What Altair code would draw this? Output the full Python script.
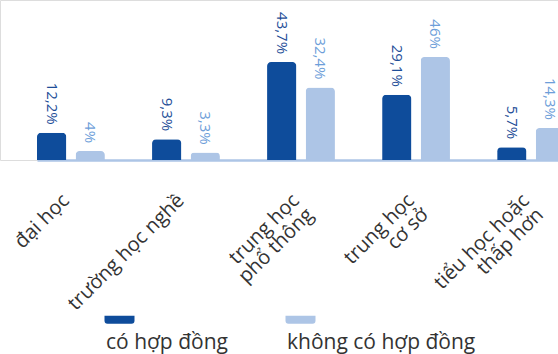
import altair as alt
import pandas as pd

# Education levels (line breaks split the axis labels)
categories = [
    "đại học",
    "trường học nghề",
    "trung học\nphổ thông",
    "trung học\ncơ sở",
    "tiểu học hoặc\nthấp hơn",
]
series = ["có hợp đồng", "không có hợp đồng"]
with_contract = [12.2, 9.3, 43.7, 29.1, 5.7]
without_contract = [4.0, 3.3, 32.4, 46.0, 14.3]

rows = []
for cat, a, b in zip(categories, with_contract, without_contract):
    rows.append({"level": cat, "group": series[0], "share": a})
    rows.append({"level": cat, "group": series[1], "share": b})
df = pd.DataFrame(rows)

dark = "#0e4c9b"
light = "#adc5e6"
font = "Open Sans"

x_enc = alt.X(
    "level:N",
    sort=categories,
    scale=alt.Scale(range=[37, 565], paddingInner=0.41, paddingOuter=0),
    axis=alt.Axis(
        title=None,
        labelAngle=-45,
        labelAlign="right",
        labelBaseline="top",
        labelExpr="split(datum.label, '\\n')",
        labelFontSize=20,
        labelFont=font,
        labelColor="#333333",
        labelLineHeight=20,
        labelPadding=30,
        labelOffset=-12,
        labelLimit=0,
        ticks=False,
        domainColor=light,
        domainWidth=2.5,
    ),
)
xoff_enc = alt.XOffset(
    "group:N", sort=series, scale=alt.Scale(paddingInner=0.24, paddingOuter=0)
)
y_enc = alt.Y(
    "share:Q",
    scale=alt.Scale(domain=[0, 71.4], nice=False, zero=True),
    axis=None,
)
color_enc = alt.Color(
    "group:N",
    sort=series,
    scale=alt.Scale(domain=series, range=[dark, light]),
    legend=alt.Legend(
        title=None,
        orient="none",
        legendX=85,
        legendY=338,
        direction="horizontal",
        symbolType="M9,-33 L9,-28 Q9,-25 12,-25 L36,-25 Q39,-25 39,-28 L39,-33 Z",
        symbolSize=4,
        symbolStrokeWidth=0,
        labelOffset=0,
        labelFont=font,
        labelFontSize=21,
        labelColor="#333333",
        labelBaseline="alphabetic",
        labelLimit=0,
        columnPadding=38,
        padding=0,
    ),
)

bars = alt.Chart(df).mark_bar(
    cornerRadiusTopLeft=4, cornerRadiusTopRight=4
).encode(x=x_enc, xOffset=xoff_enc, y=y_enc, color=color_enc)

labels = alt.Chart(df).transform_calculate(
    txt="replace(format(datum.share, '.1~f'), '.', ',') + '%'"
).mark_text(
    angle=90, align="right", baseline="middle", dx=-8, fontSize=15, font=font
).encode(
    x=x_enc,
    xOffset=xoff_enc,
    y=y_enc,
    text="txt:N",
    color=alt.Color(
        "group:N",
        sort=series,
        scale=alt.Scale(domain=series, range=["#1e4e98", "#6d9ed9"]),
        legend=None,
    ),
)

chart = (
    alt.layer(bars, labels)
    .resolve_scale(color="independent")
    .properties(
        width=558,
        height=160,
        autosize=alt.AutoSizeParams(type="none"),
        padding={"left": 0, "top": 0, "right": 0, "bottom": 194},
    )
    .configure_view(stroke=None)
    .configure(background="white")
)

chart.save("out.html", embed_options={"renderer": "svg", "actions": False})
